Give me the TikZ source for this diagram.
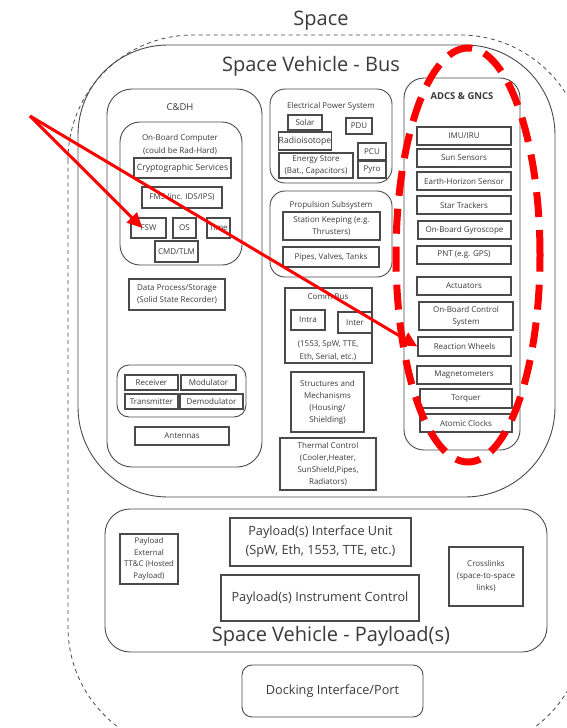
\documentclass[tikz,border=0pt]{standalone}
\usepackage{fontspec}
\setmainfont{Open Sans}
\usetikzlibrary{arrows.meta}

\definecolor{linegray}{HTML}{4A4A4A}
\definecolor{textgray}{HTML}{3A3A3A}

\begin{document}
\begin{tikzpicture}[x=1pt, y=-1pt,
	outline/.style={draw=linegray, line width=1.3pt},
	part/.style={outline, inner sep=0pt, align=center, text=textgray, font=\fontsize{8}{12}\selectfont},
	bigpart/.style={part, font=\fontsize{12.7}{19}\selectfont},
	frame/.style={draw=linegray, line width=0.9pt},
	note/.style={text=textgray, align=center, font=\fontsize{8}{12.5}\selectfont},
	heading/.style={text=textgray, font=\fontsize{20}{24}\selectfont},
	pointer/.style={red, line width=3pt, -{Triangle[length=15pt,width=14pt]}}]

	\useasboundingbox (0,0) rectangle (567,728);
	\fill[white] (0,0) rectangle (567,728);
	\clip (0,0) rectangle (567,728);

	\node[heading] (space) at (321,21) {Space};
	\draw[frame, line width=0.8pt, dash pattern=on 4pt off 3.5pt, rounded corners=125pt] (68,35) rectangle (585,752);

	\draw[frame, rounded corners=90pt] (78,45) rectangle (555,497);
	\node[heading] (bus) at (311,66) {Space Vehicle - Bus};

	\draw[frame, rounded corners=25pt] (107,89) rectangle (262,467);
	\node[note, font=\fontsize{9.5}{11}\selectfont] (cdh) at (180,107) {C\&DH};

	\draw[frame, rounded corners=20pt] (120,122) rectangle (242,265);
	\node[note] (obc) at (180,144.5) {On-Board Computer\\(could be Rad-Hard)};
	\node[part, minimum width=97, minimum height=20, font=\fontsize{8.6}{10}\selectfont] (crypto) at (182.5,168) {Cryptographic Services};
	\node[part, minimum width=80, minimum height=21] (fms) at (182,197.5) {FMS (inc. IDS/IPS)};
	\node[part, minimum width=35, minimum height=20] (fsw) at (148.5,228) {FSW};
	\node[part, minimum width=23, minimum height=20] (os) at (184.5,228) {OS};
	\node[part, minimum width=23, minimum height=20] (time) at (218.5,228) {Time};
	\node[part, minimum width=43, minimum height=21] (cmdtlm) at (176.5,251.5) {CMD/TLM};

	\node[part, minimum width=96, minimum height=31] (storage) at (177,294.5) {Data Process/Storage\\(Solid State Recorder)};

	\draw[frame, rounded corners=12pt] (117,365) rectangle (246,417);
	\node[part, minimum width=53, minimum height=15] (receiver) at (151.5,382.5) {Receiver};
	\node[part, minimum width=55, minimum height=15] (modulator) at (208.5,382.5) {Modulator};
	\node[part, minimum width=53, minimum height=15] (transmitter) at (151.5,401.5) {Transmitter};
	\node[part, minimum width=63, minimum height=15] (demodulator) at (211.5,401.5) {Demodulator};
	\node[part, minimum width=94, minimum height=18] (antennas) at (182,436) {Antennas};

	\draw[frame, rounded corners=15pt] (270,89) rectangle (392,183);
	\node[note] (eps) at (331,106) {Electrical Power System};
	\node[part, minimum width=34, minimum height=15] (solar) at (305,122.5) {Solar};
	\node[part, minimum width=52, minimum height=18, font=\fontsize{8.6}{10}\selectfont] (radioisotope) at (305,141) {Radioisotope};
	\node[part, minimum width=74, minimum height=25] (energy) at (316,165.5) {Energy Store\\(Bat., Capacitors)};
	\node[part, minimum width=26, minimum height=16] (pdu) at (359,126) {PDU};
	\node[part, minimum width=28, minimum height=17] (pcu) at (372,151.5) {PCU};
	\node[part, minimum width=28, minimum height=17] (pyro) at (372,169.5) {Pyro};

	\draw[frame, rounded corners=15pt] (270,191) rectangle (392,277);
	\node[note] (propulsion) at (331,205) {Propulsion Subsystem};
	\node[part, minimum width=97, minimum height=28] (keeping) at (331.5,226) {Station Keeping (e.g.\\Thrusters)};
	\node[part, minimum width=96, minimum height=20] (pipes) at (331,257) {Pipes, Valves, Tanks};

	\draw[outline] (285,288) rectangle (372,363);
	\node[note] (commbus) at (328,297) {Comm Bus};
	\node[part, minimum width=34, minimum height=20] (intra) at (308,320) {Intra};
	\node[part, minimum width=34, minimum height=21] (inter) at (355,322.5) {Inter};
	\node[note] (buses) at (328,350.5) {(1553, SpW, TTE,\\Eth, Serial, etc.)};

	\node[part, minimum width=73, minimum height=60] (structures) at (327.5,402) {Structures and\\Mechanisms\\(Housing/\\Shielding)};
	\node[part, minimum width=96, minimum height=52] (thermal) at (328,464) {Thermal Control\\(Cooler,Heater,\\SunShield,Pipes,\\Radiators)};

	\draw[frame, rounded corners=20pt] (404,78) rectangle (520,450);
	\node[note, font=\bfseries\fontsize{9.5}{11}\selectfont] (adcs) at (462,96) {ADCS \& GNCS};
	\node[part, minimum width=94, minimum height=18] (imu) at (464,136) {IMU/IRU};
	\node[part, minimum width=94, minimum height=18] (sun) at (464,158) {Sun Sensors};
	\node[part, minimum width=94, minimum height=18] (horizon) at (464,181) {Earth-Horizon Sensor};
	\node[part, minimum width=94, minimum height=18] (star) at (464,205) {Star Trackers};
	\node[part, minimum width=93, minimum height=18] (gyro) at (464.5,230) {On-Board Gyroscope};
	\node[part, minimum width=94, minimum height=18] (pnt) at (464,255) {PNT (e.g. GPS)};
	\node[part, minimum width=94, minimum height=18] (actuators) at (464,286) {Actuators};
	\node[part, minimum width=94, minimum height=28] (control) at (466,316) {On-Board Control\\System};
	\node[part, minimum width=93, minimum height=19] (rw) at (464.5,346.5) {Reaction Wheels};
	\node[part, minimum width=94, minimum height=18] (magneto) at (464,375) {Magnetometers};
	\node[part, minimum width=92, minimum height=19] (torquer) at (466,398.5) {Torquer};
	\node[part, minimum width=92, minimum height=18] (clocks) at (466,423) {Atomic Clocks};

	\draw[frame, rounded corners=25pt] (105,509) rectangle (547,652);
	\node[part, minimum width=58, minimum height=50, font=\fontsize{7.8}{11.5}\selectfont] (external) at (149,559) {Payload\\External\\TT\&C (Hosted\\Payload)};
	\node[bigpart, minimum width=181, minimum height=48] (interface) at (320.5,542) {Payload(s) Interface Unit\\(SpW, Eth, 1553, TTE, etc.)};
	\node[bigpart, minimum width=198, minimum height=46] (instrument) at (320,598) {Payload(s) Instrument Control};
	\node[part, minimum width=74, minimum height=59] (crosslinks) at (486,576.5) {Crosslinks\\(space-to-space\\links)};
	\node[heading] (payload) at (331,636) {Space Vehicle - Payload(s)};

	\node[bigpart, frame, rounded corners=10pt, minimum width=181, minimum height=52] (docking) at (332.5,691) {Docking Interface/Port};

	\draw[red, line width=7pt, dash pattern=on 25pt off 13pt] (468,255) ellipse [x radius=72pt, y radius=207pt];

	\coordinate (src) at (30,116);
	\draw[pointer] (src) -- ([xshift=12pt]fsw.west);
	\draw[pointer] (src) -- (rw.west);
\end{tikzpicture}
\end{document}
